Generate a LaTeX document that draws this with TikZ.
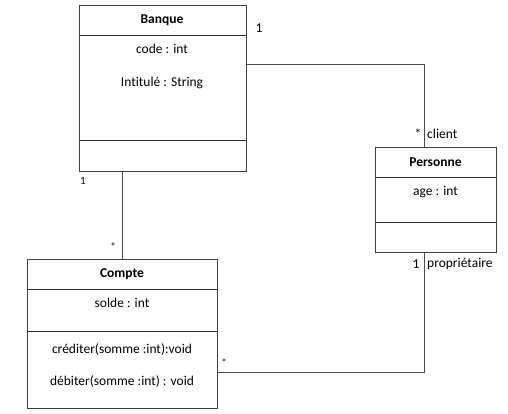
\documentclass[tikz,border=0pt]{standalone}
\usepackage{fontspec}
\setmainfont[Ligatures={NoCommon}]{Carlito}
\begin{document}
\begin{tikzpicture}[x=1pt,y=-1pt,
  cls/.style={draw=black!75, line width=0.9pt, minimum width=#1, inner sep=0pt, anchor=north west},
  sepline/.style={draw=black!80, line width=0.9pt},
  conn/.style={draw=black!70, line width=0.8pt},
  txt/.style={font=\fontsize{13.5}{15}\selectfont, inner sep=0pt},
  ttl/.style={font=\fontsize{13.5}{15}\selectfont\bfseries, inner sep=0pt},
  mult/.style={font=\fontsize{13.5}{15}\selectfont, inner sep=0pt},
  smult/.style={font=\fontsize{11}{12}\selectfont, inner sep=0pt, text=black!85!red}]
\useasboundingbox (0,0) rectangle (508,413);
\fill[white] (0,0) rectangle (508,413);
% Banque
\node[cls=167, minimum height=166] (banque) at (79,5) {};
\draw[sepline] (79,35) -- (246,35);
\draw[sepline] (79,140) -- (246,140);
\node[ttl] (bt) at (162,20) {Banque};
\node[txt] (b1) at (162,49) {code : int};
\node[txt] (b2) at (162,83) {Intitulé : String};
% Personne
\node[cls=121, minimum height=105] (personne) at (375,147) {};
\draw[sepline] (375,177) -- (496,177);
\draw[sepline] (375,222) -- (496,222);
\node[ttl] (pt) at (435.5,162) {Personne};
\node[txt] (p1) at (435.5,192) {age : int};
% Compte
\node[cls=190, minimum height=149] (compte) at (27,259) {};
\draw[sepline] (27,289) -- (217,289);
\draw[sepline] (27,331) -- (217,331);
\node[ttl] (ct) at (122,274) {Compte};
\node[txt] (c1) at (122,303) {solde : int};
\node[txt] (c2) at (122,349) {créditer(somme :int):void};
\node[txt] (c3) at (122,381) {débiter(somme :int) : void};
% connectors
\coordinate (k1) at (424,64);
\coordinate (k2) at (424,372);
\draw[conn] (banque.east |- k1) -- (k1) -- (k1 |- personne.north);
\draw[conn] (banque.south -| 122,0) -- (compte.north -| 122,0);
\draw[conn] (compte.east |- k2) -- (k2) -- (k2 |- personne.south);
% multiplicities
\node[mult] (m1) at (259,28) {1};
\node[mult] (m2) at (418,134) {*};
\node[mult, anchor=west] (m3) at (427,134) {client};
\node[mult] (m4) at (416,264) {1};
\node[mult, anchor=west] (m5) at (427,264) {propriétaire};
\node[smult] (m6) at (83,181) {1};
\node[smult] (m7) at (113,247) {*};
\node[smult] (m8) at (224,363) {*};
\end{tikzpicture}
\end{document}
